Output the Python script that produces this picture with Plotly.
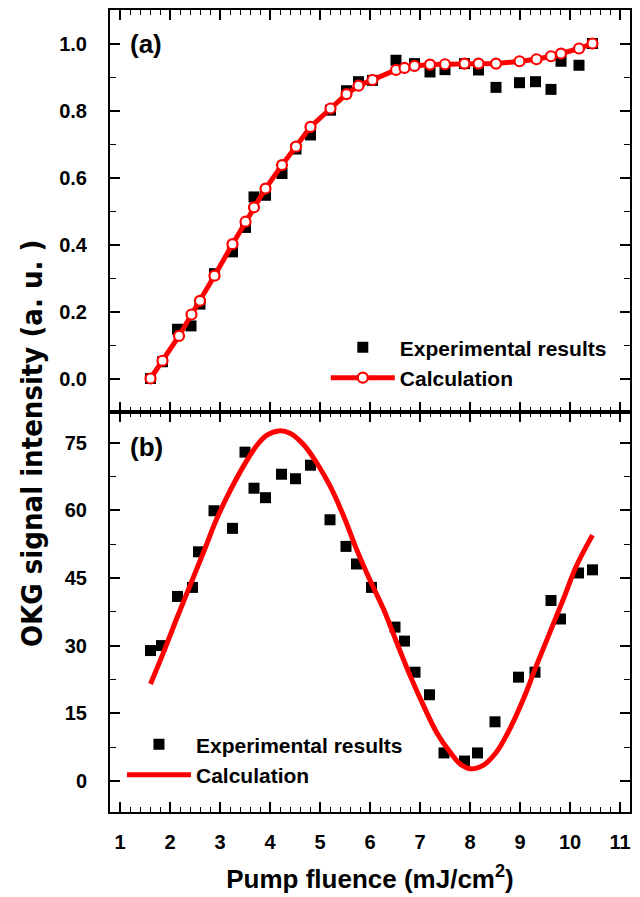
import plotly.graph_objects as go

# ---------------- data ----------------
# panel (a)
exp_a_x = [1.61, 1.85, 2.15, 2.42, 2.60, 2.89, 3.25, 3.51, 3.68, 3.91, 4.24, 4.52, 4.81, 5.21, 5.53,
           5.77, 6.05, 6.52, 6.89, 7.20, 7.50, 7.89, 8.17, 8.52, 8.99, 9.31, 9.62, 9.82, 10.18, 10.45]
exp_a_y = [0.000, 0.050, 0.147, 0.157, 0.222, 0.313, 0.378, 0.451, 0.542, 0.547, 0.612, 0.685, 0.727, 0.801, 0.859,
           0.886, 0.890, 0.950, 0.940, 0.915, 0.922, 0.940, 0.921, 0.869, 0.883, 0.886, 0.863, 0.947, 0.935, 1.000]
calc_a_x = [1.61, 1.85, 2.18, 2.43, 2.60, 2.89, 3.25, 3.51, 3.68, 3.91, 4.24, 4.52, 4.81, 5.21, 5.53, 5.77,
            6.05, 6.52, 6.69, 6.89, 7.20, 7.50, 7.89, 8.17, 8.52, 8.99, 9.33, 9.62, 9.82, 10.18, 10.45]
calc_a_y = [0.000, 0.053, 0.127, 0.191, 0.232, 0.307, 0.401, 0.468, 0.511, 0.567, 0.637, 0.692, 0.751, 0.806, 0.849, 0.874,
            0.891, 0.921, 0.927, 0.933, 0.937, 0.938, 0.940, 0.940, 0.940, 0.947, 0.953, 0.962, 0.970, 0.985, 1.000]

# panel (b)
exp_b_x = [1.61, 1.83, 2.15, 2.45, 2.57, 2.88, 3.25, 3.50, 3.68, 3.91, 4.23, 4.51, 4.81, 5.20, 5.52, 5.73,
           6.03, 6.50, 6.69, 6.90, 7.19, 7.48, 7.89, 8.15, 8.50, 8.97, 9.30, 9.62, 9.81, 10.17, 10.45]
exp_b_y = [28.9, 30.0, 40.9, 42.9, 50.8, 59.9, 56.0, 72.9, 64.9, 62.8, 68.0, 67.0, 70.0, 57.9, 52.0, 48.1,
           42.9, 34.1, 31.0, 24.1, 19.1, 6.2, 4.4, 6.2, 13.1, 23.0, 24.1, 40.0, 35.9, 46.1, 46.8]
calc_b_x = [1.61, 1.87, 2.13, 2.40, 2.67, 2.93, 3.20, 3.47, 3.73, 3.93, 4.17, 4.40, 4.67, 4.93, 5.20, 5.47,
            5.73, 6.00, 6.27, 6.53, 6.80, 7.07, 7.33, 7.60, 7.80, 8.00, 8.27, 8.53, 8.80, 9.07, 9.33, 9.60,
            9.87, 10.13, 10.45]
calc_b_y = [21.5, 28.5, 35.9, 43.3, 50.7, 58.0, 64.3, 69.8, 74.3, 76.6, 77.6, 77.1, 74.6, 70.6, 65.4, 58.8,
            51.4, 44.5, 38.1, 30.8, 23.4, 16.7, 10.8, 6.4, 3.8, 2.7, 3.5, 6.4, 11.6, 18.2, 25.6, 33.0,
            40.4, 47.7, 54.5]

x_ticks = list(range(1, 12))
ya_ticks = [0.0, 0.2, 0.4, 0.6, 0.8, 1.0]
yb_ticks = [0, 15, 30, 45, 60, 75]

# ---------------- styling ----------------
RED = "#ff0000"
FONT = "Liberation Sans, Arial, sans-serif"
NARROW = "Liberation Sans Narrow, DejaVu Sans Condensed, Liberation Sans, sans-serif"
tick_font = dict(family=FONT, size=20, color="black", weight="bold")
leg_font = dict(family=FONT, size=21, color="black", weight="bold")

fig = go.Figure()

# panel (a)
fig.add_trace(go.Scatter(x=exp_a_x, y=exp_a_y, mode="markers", name="Experimental results",
                         marker=dict(symbol="square", size=11, color="black"),
                         xaxis="x", yaxis="y", legend="legend"))
fig.add_trace(go.Scatter(x=calc_a_x, y=calc_a_y, mode="lines+markers", name="Calculation",
                         line=dict(color=RED, width=5),
                         marker=dict(symbol="circle", size=10, color="white",
                                     line=dict(color=RED, width=2.2)),
                         xaxis="x", yaxis="y", legend="legend"))

# panel (b)
fig.add_trace(go.Scatter(x=exp_b_x, y=exp_b_y, mode="markers", name="Experimental results",
                         marker=dict(symbol="square", size=11, color="black"),
                         xaxis="x2", yaxis="y2", legend="legend2"))
fig.add_trace(go.Scatter(x=calc_b_x, y=calc_b_y, mode="lines", name="Calculation",
                         line=dict(color=RED, width=5, shape="spline"),
                         xaxis="x2", yaxis="y2", legend="legend2"))

split = 401 / 804

common_x = dict(range=[0.8, 11.2], tickvals=x_ticks, ticks="inside", ticklen=10, tickwidth=1.5,
                tickcolor="black", showline=True, linewidth=2, linecolor="black", mirror="ticks",
                showgrid=False, zeroline=False,
                minor=dict(dtick=0.2, tick0=0, ticks="inside", ticklen=5, tickwidth=1.2, tickcolor="black",
                           showgrid=False))
common_y = dict(ticks="inside", ticklen=10, tickwidth=1.5, tickcolor="black", showline=True,
                linewidth=2, linecolor="black", mirror="ticks", showgrid=False, zeroline=False,
                tickfont=tick_font, ticklabelstandoff=17)

fig.update_layout(
    width=640, height=897,
    margin=dict(l=110, r=10, t=8, b=85),
    paper_bgcolor="white", plot_bgcolor="white",
    showlegend=True,
    xaxis=dict(**common_x, anchor="y", showticklabels=False),
    xaxis2=dict(**common_x, anchor="y2", showticklabels=True, tickfont=tick_font, ticklabelstandoff=11,
                title=dict(text="Pump fluence (mJ/cm<sup>2</sup>)",
                           font=dict(family=FONT, size=26, color="black", weight="bold"), standoff=18)),
    yaxis=dict(**common_y, domain=[split, 1.0], range=[-0.1, 1.1], tickvals=ya_ticks, tickformat=".1f",
               minor=dict(dtick=0.1, tick0=0, ticks="inside", ticklen=6, tickwidth=1.2,
                          tickcolor="black", showgrid=False)),
    yaxis2=dict(**common_y, domain=[0.0, split], range=[-6.9, 81.8], tickvals=yb_ticks,
                minor=dict(dtick=7.5, tick0=0, ticks="inside", ticklen=6, tickwidth=1.2,
                           tickcolor="black", showgrid=False)),
    legend=dict(x=0.415, y=0.6045, xanchor="left", yanchor="top", font=leg_font,
                bgcolor="rgba(0,0,0,0)", itemwidth=64, tracegroupgap=0),
    legend2=dict(x=0.023, y=0.1095, xanchor="left", yanchor="top", font=leg_font,
                 bgcolor="rgba(0,0,0,0)", itemwidth=64, tracegroupgap=0),
    annotations=[
        dict(text="(a)", x=1.51, y=1.0, xref="x", yref="y", showarrow=False,
             font=dict(family=FONT, size=26, color="black", weight="bold")),
        dict(text="(b)", x=1.53, y=74.0, xref="x2", yref="y2", showarrow=False,
             font=dict(family=FONT, size=26, color="black", weight="bold")),
        dict(text="OKG signal intensity (a. u. )", x=-0.15, y=0.46, xref="paper", yref="paper",
             textangle=-90, showarrow=False, xanchor="center", yanchor="middle",
             font=dict(family=NARROW, size=29, color="black", weight="bold")),
    ],
)

fig.write_html("out.html", post_script="document.body.style.margin='0px';",
               config={"displayModeBar": False})
